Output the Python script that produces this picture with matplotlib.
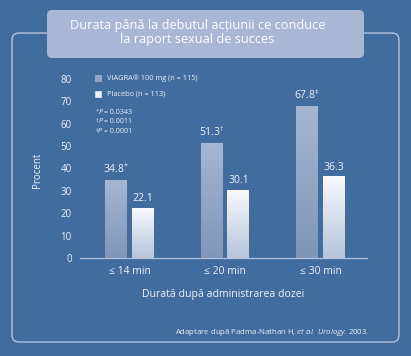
import numpy as np
import matplotlib
matplotlib.use("Agg")
import matplotlib.pyplot as plt
from matplotlib.patches import FancyBboxPatch, Rectangle
from matplotlib.colors import LinearSegmentedColormap

plt.rcParams['font.family'] = ['Open Sans', 'DejaVu Sans']
plt.rcParams['mathtext.fontset'] = 'custom'
plt.rcParams['mathtext.rm'] = 'Open Sans'
plt.rcParams['mathtext.it'] = 'Open Sans:italic'
plt.rcParams['mathtext.bf'] = 'Open Sans:bold'

# ---- data ----
categories = ['≤ 14 min', '≤ 20 min', '≤ 30 min']
viagra = [34.8, 51.3, 67.8]
placebo = [22.1, 30.1, 36.3]
viagra_marks = [r'$^{*}$', r'$^{\dag}$', r'$^{\ddag}$']
yticks = [0, 10, 20, 30, 40, 50, 60, 70, 80]
title = 'Durata până la debutul acțiunii ce conduce\nla raport sexual de succes'
legend_labels = ['VIAGRA® 100 mg (n = 115)', 'Placebo (n = 113)']
p_symbols = ['*', '†', '‡']
p_values = ['0.0343', '0.0011', '0.0001']

BG = '#416c9e'
BOX = '#a8b8d4'
FRAME = '#b3c5de'
TXT = '#eef2f8'

W, H = 411, 356
fig = plt.figure(figsize=(W / 100, H / 100), dpi=100)
fig.patch.set_facecolor(BG)

# background overlay in pixel coordinates
bg = fig.add_axes([0, 0, 1, 1], zorder=0)
bg.set_xlim(0, W)
bg.set_ylim(H, 0)
bg.axis('off')

frame = FancyBboxPatch((12, 33), 387, 309, boxstyle='round,pad=0,rounding_size=7',
                       fc='none', ec=FRAME, lw=1.0)
bg.add_patch(frame)
tbox = FancyBboxPatch((47, 10), 317, 48, boxstyle='round,pad=0,rounding_size=5',
                      fc=BOX, ec='none')
bg.add_patch(tbox)
bg.text(197.5, 32.5, title, ha='center', va='center', fontsize=9.2, color='white',
        linespacing=1.15)

# legend
sq = [('#8ea3c3', '#b5c3da'), ('#eef2f8', '#ffffff')]
for i, (lab, (fc, ec)) in enumerate(zip(legend_labels, sq)):
    y = 78 + i * 16
    bg.add_patch(Rectangle((94.5, y - 3), 6, 6, fc=fc, ec=ec, lw=0.4))
    bg.text(107, y, lab, ha='left', va='center', fontsize=5.3, color=TXT)

fig.canvas.draw()
renderer = fig.canvas.get_renderer()
inv = bg.transData.inverted()
for i, (sym, val) in enumerate(zip(p_symbols, p_values)):
    y = 112 + i * 9.7
    t1 = bg.text(95.5, y - 1.2, sym, ha='left', va='center', fontsize=3.6, color=TXT)
    ext = t1.get_window_extent(renderer)
    xe = inv.transform((ext.x1, ext.y0))[0]
    t2 = bg.text(xe + 0.2, y, 'P', ha='left', va='center', fontsize=5, color=TXT,
                 fontstyle='italic')
    ext = t2.get_window_extent(renderer)
    xe = inv.transform((ext.x1, ext.y0))[0]
    bg.text(xe, y, ' = ' + val, ha='left', va='center', fontsize=5, color=TXT)

bg.text(37, 170, 'Procent', rotation=90, ha='center', va='center', fontsize=7, color=TXT)
bg.text(223.5, 295, 'Durată după administrarea dozei', ha='center', va='center',
        fontsize=7.6, color=TXT)
bg.text(369, 332, r'Adaptare după Padma-Nathan H, $\it{et\ al.}$ $\it{Urology}$. 2003.',
        ha='right', va='center', fontsize=5.6, color=TXT)

# main axes
ax = fig.add_axes([80 / W, (H - 258) / H, 287 / W, 179 / H], zorder=1)
ax.patch.set_visible(False)
x = np.arange(len(categories))
bw = 0.23
off = 0.141

cm_v = LinearSegmentedColormap.from_list('v', ['#7f96b9', '#a6b6d0'])
cm_p = LinearSegmentedColormap.from_list('p', ['#b6c4db', '#f7f9fc'])
grad = np.linspace(0, 1, 256).reshape(-1, 1)

bars_v = ax.bar(x - off, viagra, bw, color='none', zorder=2)
bars_p = ax.bar(x + off, placebo, bw, color='none', zorder=2)
for bars, cm in ((bars_v, cm_v), (bars_p, cm_p)):
    for b in bars:
        x0, w, h = b.get_x(), b.get_width(), b.get_height()
        ax.imshow(grad, cmap=cm, origin='lower', aspect='auto',
                  extent=[x0, x0 + w, 0, h], zorder=2, interpolation='bilinear')

for xi, v, m in zip(x, viagra, viagra_marks):
    ax.annotate(f'{v:.1f}' + m, (xi - off, v), xytext=(0, 3), textcoords='offset points',
                ha='center', va='bottom', fontsize=7.5, color=TXT)
for xi, v in zip(x, placebo):
    ax.annotate(f'{v:.1f}', (xi + off, v), xytext=(0, 3), textcoords='offset points',
                ha='center', va='bottom', fontsize=7.5, color=TXT)

ax.set_xlim(-0.518, 2.487)
ax.set_ylim(0, 80)
ax.set_yticks(yticks)
ax.set_xticks(x)
ax.set_xticklabels(categories)
for s in ('top', 'right', 'left'):
    ax.spines[s].set_visible(False)
ax.spines['bottom'].set_color(FRAME)
ax.spines['bottom'].set_linewidth(0.9)
ax.tick_params(axis='both', length=0, colors=TXT, labelsize=7)
ax.tick_params(axis='x', pad=6, labelsize=7.5)
ax.tick_params(axis='y', pad=6)

fig.savefig('out.png', dpi=100, facecolor=BG)
